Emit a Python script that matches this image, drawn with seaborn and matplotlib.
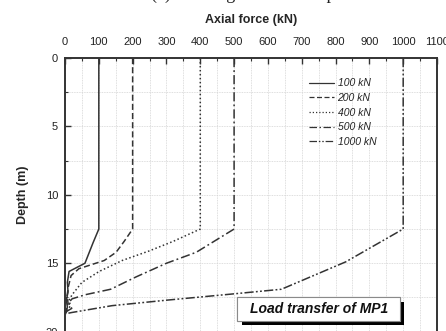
import numpy as np
import pandas as pd
import seaborn as sns
import matplotlib
matplotlib.use("Agg")
import matplotlib.pyplot as plt
from matplotlib.ticker import MultipleLocator
from matplotlib.patches import Rectangle
import matplotlib.patheffects as pe

# ---- data ----
loads = ["100 kN", "200 kN", "400 kN", "500 kN", "1000 kN"]

force_100 = [100, 100, 83, 59, 12, 7, 9, 4, 7, 3, 0]
depth_100 = [0, 12.5, 13.5, 15.0, 15.6, 16.4, 17.1, 17.7, 18.2, 18.6, 18.7]

force_200 = [200, 200, 175, 151, 116, 41, 18, 10, 6, 9, 4, 0]
depth_200 = [0, 12.5, 13.4, 14.2, 14.8, 15.4, 15.9, 16.7, 17.4, 17.9, 18.4, 18.7]

force_400 = [400, 400, 320, 249, 169, 101, 50, 21, 12, 16, 6, 0]
depth_400 = [0, 12.5, 13.4, 14.1, 14.8, 15.6, 16.4, 17.3, 17.7, 18.1, 18.5, 18.7]

force_500 = [500, 500, 388, 300, 210, 135, 60, 21, 10, 20, 6, 0]
depth_500 = [0, 12.5, 14.2, 15.0, 16.0, 16.9, 17.3, 17.6, 17.9, 18.3, 18.5, 18.7]

force_1000 = [1000, 1000, 830, 640, 515, 300, 139, 20, 0]
depth_1000 = [0, 12.5, 14.9, 16.9, 17.2, 17.7, 18.1, 18.6, 18.7]

x_ticks = list(range(0, 1101, 100))
y_ticks = [0, 5, 10, 15, 20]

series = {
    "100 kN": (force_100, depth_100),
    "200 kN": (force_200, depth_200),
    "400 kN": (force_400, depth_400),
    "500 kN": (force_500, depth_500),
    "1000 kN": (force_1000, depth_1000),
}
rows = []
for lab in loads:
    f, d = series[lab]
    for i, (fv, dv) in enumerate(zip(f, d)):
        rows.append({"load": lab, "force": fv, "depth": dv, "order": i})
df = pd.DataFrame(rows)

# ---- style ----
sns.set_theme(style="white")
plt.rcParams["font.family"] = ["Liberation Sans", "DejaVu Sans"]

fig = plt.figure(figsize=(4.46, 3.31), dpi=100)
ax = fig.add_axes([65 / 446, -0.002, (437 - 65) / 446, (330 - 56) / 331 + 0.002 - 0.003])

line_color = "#333333"
dash_map = {
    "100 kN": "",
    "200 kN": (4, 2),
    "400 kN": (1, 1.6),
    "500 kN": (6, 2, 1.2, 2),
    "1000 kN": (6, 1.5, 1.2, 1.5, 1.2, 1.5),
}
sns.lineplot(data=df, x="force", y="depth", style="load", style_order=loads,
             dashes=dash_map, sort=False, estimator=None, color=line_color,
             linewidth=1.1, ax=ax, legend=True)

ax.set_xlim(0, 1100)
ax.set_ylim(20, 0)
ax.xaxis.tick_top()
ax.xaxis.set_label_position("top")
ax.set_xticks(x_ticks)
ax.set_yticks(y_ticks)
ax.xaxis.set_minor_locator(MultipleLocator(50))
ax.yaxis.set_minor_locator(MultipleLocator(2.5))
ax.tick_params(axis="both", which="major", direction="in", length=4, width=1,
               color="#333333", labelsize=8, labelcolor="#222222")
ax.tick_params(axis="x", which="major", pad=8)
ax.tick_params(axis="y", which="major", pad=5)
ax.tick_params(axis="both", which="minor", direction="in", length=2, width=0.8,
               color="#333333")
ax.tick_params(axis="x", which="both", top=True, bottom=False)
ax.tick_params(axis="y", which="both", left=True, right=False)
ax.grid(True, which="both", color="#d4d4d4", linewidth=0.6, linestyle=(0, (1, 1)))

for s in ax.spines.values():
    s.set_color("#333333")
    s.set_linewidth(1.4)

ax.set_xlabel("Axial force (kN)", fontsize=9, fontweight="bold", labelpad=10)
ax.set_ylabel("Depth (m)", fontsize=9, fontweight="bold", labelpad=12)

# legend
handles, labels = ax.get_legend_handles_labels()
leg = ax.legend(handles, labels, loc="upper left", bbox_to_anchor=(0.643, 0.945),
                frameon=False, fontsize=7.5, handlelength=2.4, handletextpad=0.3,
                labelspacing=0.45, borderpad=0)
for t in leg.get_texts():
    t.set_fontstyle("italic")
    t.set_color("#222222")
for h in leg.get_lines():
    h.set_color(line_color)
    h.set_linewidth(0.9)

# annotation box with shadow
rect = Rectangle((510, 17.5), 480, 1.7, facecolor="white", edgecolor="#8a8a8a",
                 linewidth=0.8, zorder=5)
rect.set_path_effects([pe.withSimplePatchShadow(offset=(3, -3), shadow_rgbFace="black",
                                                alpha=1.0), pe.Normal()])
ax.add_patch(rect)
ax.text(750, 18.35, "Load transfer of MP1", ha="center", va="center", fontsize=10,
        fontweight="bold", fontstyle="italic", color="#111111", zorder=6)

# partially cropped caption at the very top (only its lower part is visible)
fig.text(0.565, 1.0 + 1.0 / 331, "(a) Loading behavior of pile", ha="center",
         va="baseline", fontsize=13, family=["Liberation Serif", "DejaVu Serif"],
         color="#222222")

fig.savefig("out.png", dpi=100)
